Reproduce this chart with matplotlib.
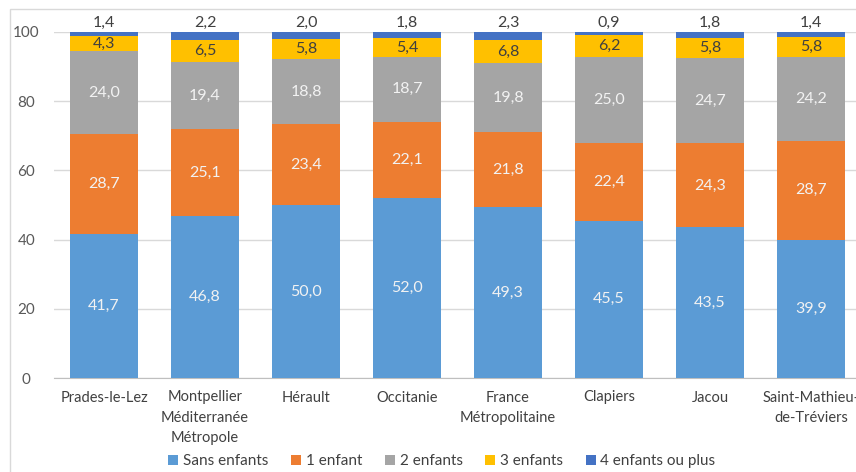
import matplotlib.pyplot as plt
from matplotlib.patches import Rectangle
import numpy as np

plt.rcParams['font.family'] = ['Lato', 'DejaVu Sans']

categories = ["Prades-le-Lez", "Montpellier\nMéditerranée\nMétropole", "Hérault", "Occitanie",
              "France\nMétropolitaine", "Clapiers", "Jacou", "Saint-Mathieu-\nde-Tréviers"]
sans_enfants = [41.7, 46.8, 50.0, 52.0, 49.3, 45.5, 43.5, 39.9]
un_enfant = [28.7, 25.1, 23.4, 22.1, 21.8, 22.4, 24.3, 28.7]
deux_enfants = [24.0, 19.4, 18.8, 18.7, 19.8, 25.0, 24.7, 24.2]
trois_enfants = [4.3, 6.5, 5.8, 5.4, 6.8, 6.2, 5.8, 5.8]
quatre_plus = [1.4, 2.2, 2.0, 1.8, 2.3, 0.9, 1.8, 1.4]

series = [("Sans enfants", sans_enfants, "#5B9BD5", "#f2f2f2"),
          ("1 enfant", un_enfant, "#ED7D31", "#f2f2f2"),
          ("2 enfants", deux_enfants, "#A5A5A5", "#f2f2f2"),
          ("3 enfants", trois_enfants, "#FFC000", "#404040"),
          ("4 enfants ou plus", quatre_plus, "#4472C4", None)]

fig = plt.figure(figsize=(8.56, 4.72), dpi=100)
ax = fig.add_axes([53.5 / 856, 94 / 472, 808 / 856, 346 / 472])

# chart frame
fig.patches.append(Rectangle((10 / 856, -0.01), 2, 1.01 - 9 / 472, transform=fig.transFigure,
                             fill=False, edgecolor="#d9d9d9", linewidth=1))

x = np.arange(len(categories))
bottom = np.zeros(len(categories))
for name, vals, color, tcol in series:
    vals = np.array(vals)
    ax.bar(x, vals, width=0.665, bottom=bottom, color=color, label=name, zorder=3)
    for xi, b, v in zip(x, bottom, vals):
        txt = f"{v:.1f}".replace(".", ",")
        if tcol is None:
            ax.annotate(txt, (xi, 100), xytext=(0, 1.5), textcoords="offset points",
                        ha="center", va="bottom", fontsize=11.5, color="#404040",
                        annotation_clip=False)
        else:
            ax.text(xi, b + v / 2, txt, ha="center", va="center", fontsize=11.5, color=tcol, zorder=4)
    bottom += vals

ax.set_ylim(0, 100)
ax.set_xlim(-0.5, len(categories) - 0.5)
ax.set_yticks(range(0, 101, 20))
ax.set_xticks(x)
ax.set_xticklabels(categories, fontsize=10.5, color="#404040", linespacing=1.55, va="top")
for lbl in ax.get_yticklabels():
    lbl.set_horizontalalignment("center")
ax.tick_params(axis="y", labelsize=11, labelcolor="#595959", length=0, pad=19.5)
ax.tick_params(axis="x", length=0, pad=9)
ax.grid(axis="y", color="#d9d9d9", linewidth=1, zorder=0)
for s in ["top", "right", "left"]:
    ax.spines[s].set_visible(False)
ax.spines["bottom"].set_color("#bfbfbf")

ax.legend(loc="center", bbox_to_anchor=(442 / 856, 1 - 461 / 472), bbox_transform=fig.transFigure,
          ncol=5, frameon=False, fontsize=11, handlelength=0.65, handleheight=0.65,
          handletextpad=0.3, columnspacing=1.5, labelcolor="#404040", borderpad=0)

fig.savefig("out.png", dpi=100)
